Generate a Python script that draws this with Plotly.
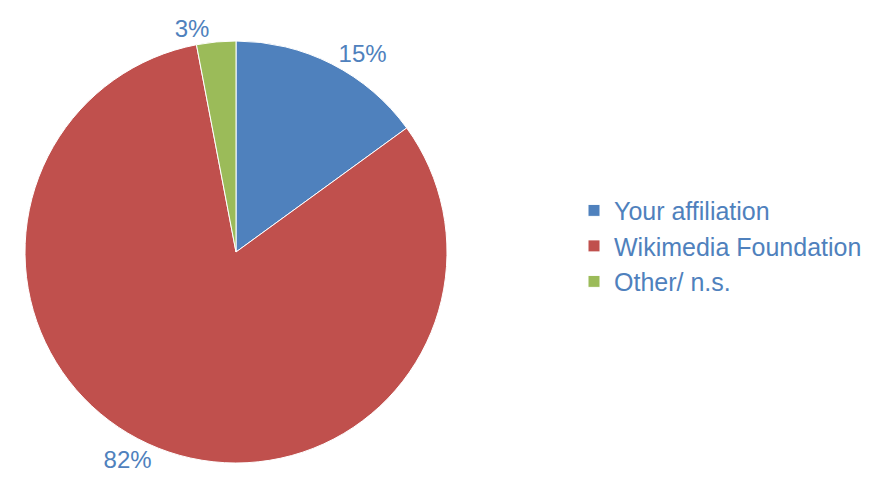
import plotly.graph_objects as go

labels = ["Your affiliation", "Wikimedia Foundation", "Other/ n.s."]
values = [15, 82, 3]
colors = ["#4F81BD", "#C0504D", "#9BBB59"]

W, H = 892, 484
fig = go.Figure(go.Pie(
    labels=labels, values=values, sort=False, direction="clockwise", rotation=0,
    marker=dict(colors=colors, line=dict(color="white", width=1)),
    texttemplate="%{percent:.0%}", textposition="outside",
    outsidetextfont=dict(color="#4F81BD", size=24, family="Liberation Sans"),
    domain=dict(x=[17 / W, 439 / W], y=[(H - 455) / H, (H - 33) / H]),
    showlegend=True,
))
fig.update_layout(
    width=W, height=H, margin=dict(l=0, r=0, t=0, b=0),
    paper_bgcolor="white", plot_bgcolor="white",
    font=dict(family="Liberation Sans", color="#4F81BD", size=25),
    legend=dict(x=566 / W, y=0.508, xanchor="left", yanchor="middle",
                font=dict(size=25, color="#4F81BD"), itemwidth=30,
                tracegroupgap=0),
)
fig.write_html("out.html")
